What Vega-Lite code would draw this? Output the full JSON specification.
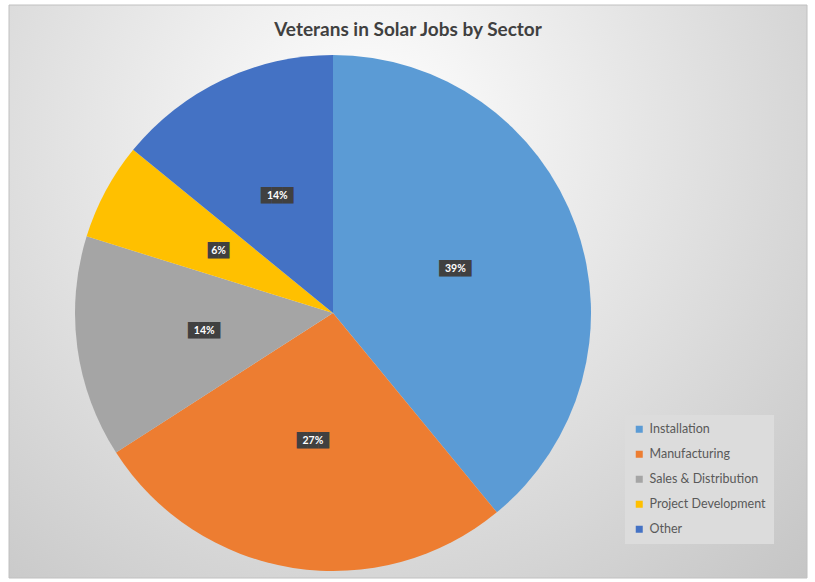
{
  "$schema": "https://vega.github.io/schema/vega-lite/v6.json",
  "width": 798,
  "height": 573,
  "autosize": {"type": "none"},
  "padding": {"left": 9, "top": 5, "right": 8, "bottom": 4},
  "background": "#ffffff",
  "config": {"view": {"stroke": null}},
  "title": {
    "text": "Veterans in Solar Jobs by Sector",
    "font": "Lato",
    "fontSize": 19,
    "fontWeight": "bold",
    "color": "#404040",
    "anchor": "middle",
    "frame": "group",
    "offset": -35
  },
  "layer": [
    {
      "data": {"values": [{"frame": 1}]},
      "mark": {
        "type": "rect",
        "stroke": "#c0c0c0",
        "strokeWidth": 1,
        "fill": {
          "gradient": "radial",
          "x1": 0.45, "y1": 0.3, "r1": 0,
          "x2": 0.45, "y2": 0.3, "r2": 0.8,
          "stops": [
            {"offset": 0, "color": "#ffffff"},
            {"offset": 1, "color": "#c4c4c4"}
          ]
        }
      },
      "encoding": {}
    },
    {
      "data": {"name": "pie", "values": [
        {"sector": "Installation", "share": 0.3905, "rank": 1},
        {"sector": "Manufacturing", "share": 0.2685, "rank": 2},
        {"sector": "Sales & Distribution", "share": 0.139, "rank": 3},
        {"sector": "Project Development", "share": 0.061, "rank": 4},
        {"sector": "Other", "share": 0.141, "rank": 5}
      ]},
      "encoding": {
        "theta": {"field": "share", "type": "quantitative", "stack": true},
        "order": {"field": "rank", "type": "quantitative"}
      },
      "layer": [
        {
          "mark": {"type": "arc", "outerRadius": 258, "x": 324, "y": 308},
          "encoding": {
            "color": {
              "field": "sector",
              "type": "nominal",
              "scale": {
                "domain": ["Installation", "Manufacturing", "Sales & Distribution", "Project Development", "Other"],
                "range": ["#5b9bd5", "#ed7d31", "#a5a5a5", "#ffc000", "#4472c4"]
              },
              "legend": {
                "title": null,
                "orient": "none",
                "legendX": 616,
                "legendY": 410,
                "fillColor": "#dcdcdc",
                "padding": 8,
                "symbolType": "square",
                "symbolSize": 49,
                "symbolStrokeWidth": 0,
                "labelFont": "Lato",
                "labelFontSize": 12.5,
                "labelColor": "#595959",
                "labelOffset": 4,
                "rowPadding": 12,
                "labelLimit": 300
              }
            }
          }
        },
        {
          "mark": {
            "type": "text", "radius": 130, "x": 324, "y": 308,
            "font": "DejaVu Sans", "fontSize": 14,
            "fill": "#404040",
            "text": {"expr": "datum.share >= 0.095 ? '███' : '██'"}
          },
          "encoding": {}
        },
        {
          "mark": {
            "type": "text", "radius": 130, "x": 324, "y": 308,
            "font": "Lato", "fontSize": 10.5, "fontWeight": "bold",
            "fill": "#ffffff"
          },
          "encoding": {"text": {"field": "share", "type": "quantitative", "format": ".0%"}}
        }
      ]
    }
  ]
}
